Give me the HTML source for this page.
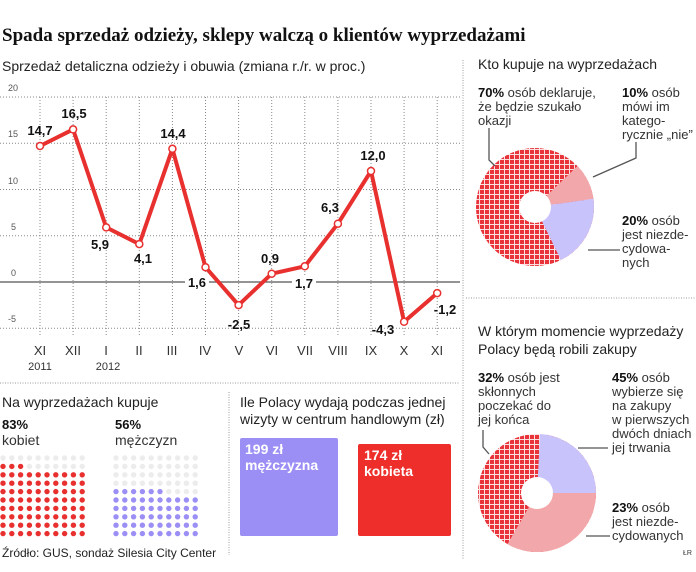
<!DOCTYPE html>
<html><head><meta charset="utf-8"><style>
body{margin:0;background:#fff;}
svg{display:block;font-family:"Liberation Sans",sans-serif;}
.b{font-weight:bold}
</style></head><body>
<svg width="696" height="572" viewBox="0 0 696 572" xmlns="http://www.w3.org/2000/svg">
<defs>
<pattern id="chk" width="5" height="5" patternUnits="userSpaceOnUse">
<rect width="5" height="5" fill="#e8333a"/>
<rect x="4" y="0" width="1" height="5" fill="#fbe0e0"/>
<rect x="0" y="4" width="5" height="1" fill="#fbe0e0"/>
</pattern>
</defs>
<text x="2" y="41" font-family="Liberation Serif,serif" font-weight="bold" font-size="19" fill="#111">Spada sprzedaż odzieży, sklepy walczą o klientów wyprzedażami</text>
<text x="2" y="71" font-size="14" fill="#222">Sprzedaż detaliczna odzieży i obuwia (zmiana r./r. w proc.)</text>

<g stroke="#888" stroke-width="1" stroke-dasharray="1,2" fill="none">
<line x1="0" y1="97" x2="460" y2="97"/><line x1="0" y1="143.3" x2="460" y2="143.3"/>
<line x1="0" y1="189.5" x2="460" y2="189.5"/><line x1="0" y1="235.8" x2="460" y2="235.8"/>
<line x1="0" y1="328.3" x2="460" y2="328.3"/>
<line x1="40" y1="97" x2="40" y2="335"/><line x1="73.1" y1="97" x2="73.1" y2="335"/>
<line x1="106.2" y1="97" x2="106.2" y2="335"/><line x1="139.3" y1="97" x2="139.3" y2="335"/>
<line x1="172.4" y1="97" x2="172.4" y2="335"/><line x1="205.5" y1="97" x2="205.5" y2="335"/>
<line x1="238.6" y1="97" x2="238.6" y2="335"/><line x1="271.7" y1="97" x2="271.7" y2="335"/>
<line x1="304.8" y1="97" x2="304.8" y2="335"/><line x1="337.9" y1="97" x2="337.9" y2="335"/>
<line x1="371" y1="97" x2="371" y2="335"/><line x1="404.1" y1="97" x2="404.1" y2="335"/>
<line x1="437.2" y1="97" x2="437.2" y2="335"/>
</g>
<line x1="0" y1="282" x2="460" y2="282" stroke="#555" stroke-width="1.2"/>
<g font-size="9" fill="#555">
<text x="8" y="91">20</text><text x="8" y="137">15</text><text x="8" y="184">10</text>
<text x="11" y="230">5</text><text x="11" y="276">0</text><text x="8" y="322">-5</text>
</g>
<polyline fill="none" stroke="#e8302f" stroke-width="4" stroke-linejoin="round" points="40,146 73.1,129.4 106.2,227.4 139.3,244.1 172.4,148.8 205.5,267.2 238.6,305.1 271.7,273.7 304.8,266.3 337.9,223.7 371,171 404.1,321.8 437.2,293.1"/>
<g fill="#fff" stroke="#e8302f" stroke-width="1.5">
<circle cx="40" cy="146" r="3.5"/><circle cx="73.1" cy="129.4" r="3.5"/><circle cx="106.2" cy="227.4" r="3.5"/>
<circle cx="139.3" cy="244.1" r="3.5"/><circle cx="172.4" cy="148.8" r="3.5"/><circle cx="205.5" cy="267.2" r="3.5"/>
<circle cx="238.6" cy="305.1" r="3.5"/><circle cx="271.7" cy="273.7" r="3.5"/><circle cx="304.8" cy="266.3" r="3.5"/>
<circle cx="337.9" cy="223.7" r="3.5"/><circle cx="371" cy="171" r="3.5"/><circle cx="404.1" cy="321.8" r="3.5"/>
<circle cx="437.2" cy="293.1" r="3.5"/>
</g>
<g fill="#fff"><rect x="185" y="274" width="24" height="16"/><rect x="292" y="275" width="24" height="16"/></g>
<g font-size="13" font-weight="bold" fill="#111" text-anchor="middle">
<text x="40" y="135">14,7</text><text x="74" y="118">16,5</text><text x="100" y="249">5,9</text>
<text x="143" y="263">4,1</text><text x="173" y="138">14,4</text><text x="197" y="287">1,6</text>
<text x="239" y="329">-2,5</text><text x="270" y="263">0,9</text><text x="304" y="288">1,7</text>
<text x="330" y="212">6,3</text><text x="373" y="160">12,0</text><text x="383" y="334">-4,3</text>
<text x="445" y="314">-1,2</text>
</g>
<g font-size="13" fill="#333" text-anchor="middle">
<text x="40" y="355">XI</text><text x="73" y="355">XII</text><text x="106" y="355">I</text>
<text x="139" y="355">II</text><text x="172" y="355">III</text><text x="205" y="355">IV</text>
<text x="239" y="355">V</text><text x="272" y="355">VI</text><text x="305" y="355">VII</text>
<text x="338" y="355">VIII</text><text x="371" y="355">IX</text><text x="404" y="355">X</text>
<text x="437" y="355">XI</text>
<text x="40" y="370" font-size="11">2011</text><text x="108" y="370" font-size="11">2012</text>
</g>

<g stroke="#999" stroke-width="1" stroke-dasharray="1,1.5">
<line x1="0" y1="383" x2="460" y2="383"/>
<line x1="229" y1="392" x2="229" y2="555"/>
<line x1="463" y1="60" x2="463" y2="560"/>
<line x1="466" y1="298" x2="696" y2="298"/>
</g>

<text x="2" y="407" font-size="14" fill="#222">Na wyprzedażach kupuje</text>
<text x="2" y="429" font-size="13" class="b" fill="#111">83%</text>
<text x="2" y="445" font-size="14" fill="#333">kobiet</text>
<text x="115" y="429" font-size="13" class="b" fill="#111">56%</text>
<text x="115" y="445" font-size="14" fill="#333">mężczyzn</text>
<g id="dots"></g>
<text x="240" y="407" font-size="14" fill="#222">Ile Polacy wydają podczas jednej</text>
<text x="240" y="424" font-size="14" fill="#222">wizyty w centrum handlowym (zł)</text>
<rect x="240" y="438" width="98" height="98" rx="2" fill="#9b8ff6"/>
<rect x="358" y="444" width="93" height="92" rx="2" fill="#ee2e2a"/>
<g font-size="14" font-weight="bold" fill="#fff">
<text x="245" y="454">199 zł</text><text x="245" y="470">mężczyzna</text>
<text x="364" y="460">174 zł</text><text x="364" y="476">kobieta</text>
</g>
<text x="2" y="557" font-size="12" fill="#222">Źródło: GUS, sondaż Silesia City Center</text>
<text x="683" y="555" font-size="7" fill="#333">ŁR</text>

<text x="478" y="69" font-size="14" fill="#222">Kto kupuje na wyprzedażach</text>
<g font-size="13" fill="#333">
<text x="478" y="97"><tspan class="b" fill="#111">70%</tspan> osób deklaruje,</text>
<text x="478" y="111">że będzie szukało</text><text x="478" y="125">okazji</text>
<text x="622" y="97"><tspan class="b" fill="#111">10%</tspan> osób</text>
<text x="622" y="111">mówi im</text><text x="622" y="125">katego-</text><text x="622" y="139">rycznie „nie”</text>
<text x="622" y="225"><tspan class="b" fill="#111">20%</tspan> osób</text>
<text x="622" y="239">jest niezde-</text><text x="622" y="253">cydowa-</text><text x="622" y="267">nych</text>
</g>
<circle cx="535" cy="207" r="59" fill="url(#chk)"/>
<path d="M535,207 L577.4,166 A59,59 0 0 1 593.4,198.8 Z" fill="#f2a8aa"/>
<path d="M535,207 L593.4,198.8 A59,59 0 0 1 560.9,260 Z" fill="#c8c3fb"/>
<circle cx="535" cy="207" r="16" fill="#fff"/>
<g stroke="#555" stroke-width="1.3" fill="none">
<polyline points="489,128 489,160 495,166"/>
<polyline points="636,142 636,158 593,177"/>
<line x1="588" y1="250" x2="620" y2="250"/>
</g>

<text x="478" y="336" font-size="14" fill="#222">W którym momencie wyprzedaży</text>
<text x="478" y="354" font-size="14" fill="#222">Polacy będą robili zakupy</text>
<g font-size="13" fill="#333">
<text x="478" y="382"><tspan class="b" fill="#111">32%</tspan> osób jest</text>
<text x="478" y="396">skłonnych</text><text x="478" y="410">poczekać do</text><text x="478" y="424">jej końca</text>
<text x="612" y="382"><tspan class="b" fill="#111">45%</tspan> osób</text>
<text x="612" y="396">wybierze się</text><text x="612" y="410">na zakupy</text>
<text x="612" y="424">w pierwszych</text><text x="612" y="438">dwóch dniach</text><text x="612" y="452">jej trwania</text>
<text x="612" y="512"><tspan class="b" fill="#111">23%</tspan> osób</text>
<text x="612" y="526">jest niezde-</text><text x="612" y="540">cydowanych</text>
</g>
<circle cx="537" cy="493" r="59" fill="url(#chk)"/>
<path d="M537,493 L540.1,434.1 A59,59 0 0 1 596,493 Z" fill="#c8c3fb"/>
<path d="M537,493 L596,493 A59,59 0 0 1 507.5,544.1 Z" fill="#f2a8aa"/>
<circle cx="537" cy="493" r="16" fill="#fff"/>
<g stroke="#555" stroke-width="1.3" fill="none">
<polyline points="483,430 483,447 489,454"/>
<line x1="578" y1="448" x2="608" y2="448"/>
<line x1="586" y1="536" x2="610" y2="536"/>
</g>
</svg>
<script>
(function(){
var g=document.getElementById('dots'),s='';
function grid(x0,n,col){
 for(var r=0;r<10;r++)for(var c=0;c<10;c++){
  var filled=(r>=10-Math.floor(n/10))||(r==9-Math.floor(n/10)&&c<n%10);
  s+='<circle cx="'+(x0+c*8.8)+'" cy="'+(458+r*8.4)+'" r="2.7" fill="'+(filled?col:'#ececec')+'"/>';
 }}
grid(3,83,'#e8302f');grid(116,56,'#9b8ff6');
g.innerHTML=s;
})();
</script>
</body></html>
